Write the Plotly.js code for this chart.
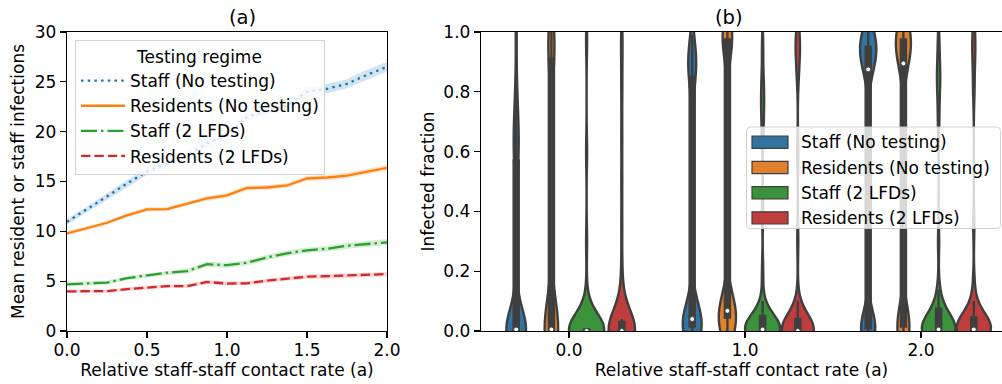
<!DOCTYPE html>
<html><head><meta charset="utf-8">
<script src="https://cdn.plot.ly/plotly-3.0.1.min.js"></script>
<style>html,body{margin:0;padding:0;background:#fff;overflow:hidden}#chart{width:1002px;height:384px}</style>
</head><body><div id="chart"></div>
<script>
// ---------- Panel (a): mean infections vs relative staff-staff contact rate ----------
const contactRate = [0, 0.125, 0.25, 0.375, 0.5, 0.625, 0.75, 0.875, 1, 1.125, 1.25, 1.375, 1.5, 1.625, 1.75, 1.875, 2];
const staffNoTesting     = [10.96, 12.2, 13.5, 14.8, 16.0, 16.8, 17.6, 18.8, 19.6, 21.5, 22.1, 22.6, 24.0, 24.3, 24.8, 25.7, 26.5];
const residentsNoTesting = [9.79, 10.3, 10.86, 11.6, 12.2, 12.23, 12.8, 13.3, 13.6, 14.35, 14.4, 14.6, 15.3, 15.4, 15.6, 16.0, 16.37];
const staff2LFDs         = [4.68, 4.75, 4.86, 5.3, 5.55, 5.85, 6.0, 6.7, 6.6, 6.85, 7.38, 7.8, 8.1, 8.25, 8.55, 8.75, 8.9];
const residents2LFDs     = [3.98, 3.98, 4.0, 4.2, 4.34, 4.5, 4.5, 4.92, 4.76, 4.78, 5.05, 5.25, 5.45, 5.5, 5.58, 5.66, 5.71];
// half-width of the confidence band around each mean
const staffNoTestingCI     = [0.3, 0.3, 0.35, 0.35, 0.35, 0.35, 0.4, 0.4, 0.4, 0.4, 0.4, 0.45, 0.45, 0.45, 0.45, 0.5, 0.5];
const residentsNoTestingCI = [0.2, 0.2, 0.2, 0.22, 0.22, 0.22, 0.22, 0.25, 0.25, 0.25, 0.25, 0.25, 0.25, 0.28, 0.28, 0.28, 0.28];
const staff2LFDsCI         = [0.2, 0.2, 0.2, 0.22, 0.22, 0.22, 0.25, 0.25, 0.25, 0.25, 0.28, 0.28, 0.28, 0.28, 0.3, 0.3, 0.3];
const residents2LFDsCI     = [0.15, 0.15, 0.15, 0.18, 0.18, 0.18, 0.18, 0.2, 0.2, 0.2, 0.2, 0.2, 0.22, 0.22, 0.22, 0.22, 0.22];

const seriesNames = ['Staff (No testing)', 'Residents (No testing)', 'Staff (2 LFDs)', 'Residents (2 LFDs)'];
const legendTitle = 'Testing regime';

// ---------- Panel (b): infected fraction per simulation, by contact rate ----------
const violinCategories = [0, 1, 2];
const violinTickLabels = ['0.0', '1.0', '2.0'];
const staffNoTestingFrac = [
  [0,0,0,0,0,0,0,0,0,0, 0,0,0,0,0,0,0,0,0,0, 0.01,0.03,0.05,0.08,0.12,0.2,0.3,0.4,0.5,0.56, 0.58,0.6,0.62,0.65,0.68,0.7,0.73,0.77,0.85,1.0],
  [0,0,0,0,0,0,0, 0.01,0.01,0.01, 0.02,0.02,0.02, 0.03,0.03,0.03,0.03,0.03, 0.04,0.04,0.04, 0.06,0.08,0.1, 0.15,0.3,0.5,0.7,0.78, 0.84,0.86,0.87,0.88,0.89,0.9,0.91,0.92,0.93,0.95,0.99],
  [0,0,0,0,0,0,0,0,0, 0.01,0.01,0.01, 0.02,0.02, 0.03,0.05, 0.3,0.7, 0.86,0.87,0.88,0.89,0.9,0.91,0.92,0.92,0.93,0.93,0.94,0.95,0.95,0.96,0.96,0.97,0.97,0.98,0.98,0.99,1.0,1.0]
];
const residentsNoTestingFrac = [
  [0,0,0,0,0,0,0,0,0,0, 0,0,0,0,0,0,0,0,0,0, 0.01, 0.03,0.06,0.1,0.2,0.35,0.5,0.65,0.8,0.9, 0.92,0.93,0.94,0.95,0.96,0.97,0.98,0.99,1.0,1.0],
  [0,0,0, 0.01, 0.02,0.02, 0.03,0.03, 0.04,0.04, 0.05,0.05,0.05, 0.06,0.06,0.06,0.06,0.06,0.06, 0.065,0.07,0.08,0.1,0.12, 0.3,0.55,0.8,0.9, 0.95,0.97,0.98,0.98,0.99,0.99,0.99,1.0,1.0,1.0,1.0,1.0],
  [0,0,0,0,0,0,0, 0.01,0.01,0.01, 0.02,0.02, 0.03,0.04,0.05,0.07, 0.4,0.75, 0.88,0.89,0.9,0.91,0.92,0.93,0.94,0.95,0.96,0.96,0.97,0.97,0.98,0.98,0.98,0.99,0.99,0.99,1.0,1.0,1.0,1.0]
];
const staff2LFDsFrac = [
  [0,0,0,0,0,0,0,0,0,0, 0,0,0,0,0,0,0,0,0,0, 0,0,0,0,0,0,0,0,0,0, 0.01,0.01,0.01,0.02,0.03,0.05, 0.12,0.3,0.6,0.97],
  [0,0,0,0,0,0,0,0,0,0, 0,0,0,0,0,0,0,0,0,0, 0.01,0.01,0.01,0.02,0.02,0.02,0.03,0.03,0.04,0.04, 0.06,0.1,0.2,0.4,0.65,0.72,0.76,0.8,0.85,0.95],
  [0,0,0,0,0,0,0,0,0,0, 0,0,0,0,0,0,0,0,0,0, 0.01,0.01,0.02,0.02,0.03,0.03,0.04,0.05,0.06,0.07, 0.08,0.1,0.14,0.3,0.7,0.78,0.83,0.86,0.9,0.97]
];
const residents2LFDsFrac = [
  [0,0,0,0,0,0,0,0,0,0, 0,0,0,0,0,0,0,0,0,0, 0,0,0,0,0,0, 0.01,0.01,0.01,0.02, 0.04,0.08,0.12,0.2,0.35,0.5,0.65,0.8,0.92,1.0],
  [0,0,0,0,0,0,0,0,0,0, 0,0,0,0,0,0,0,0,0,0, 0,0,0,0, 0.01,0.01,0.01,0.02,0.02,0.02, 0.06,0.1,0.3,0.6,0.85,0.9,0.93,0.96,0.98,1.0],
  [0,0,0,0,0,0,0,0,0,0, 0,0,0,0,0,0,0,0,0,0, 0.01,0.01,0.01,0.02,0.02,0.03,0.03,0.04,0.04,0.04, 0.05,0.07,0.1,0.16,0.35,0.8,0.88,0.93,0.97,1.0]
];
// kernel bandwidths for each violin (per series, per category)
const violinBandwidths = [[0.065, 0.065, 0.06], [0.095, 0.07, 0.07], [0.055, 0.046, 0.046], [0.065, 0.052, 0.048]];

// ---------- styles ----------
const lineColors = ['#1f77b4', '#ff7f0e', '#2ca02c', '#d62728'];
const bandColors = ['rgba(31,119,180,0.2)', 'rgba(255,127,14,0.2)', 'rgba(44,160,44,0.2)', 'rgba(214,39,40,0.2)'];
const lineDashes = ['2.5px,4.2px', 'solid', '16px,4px,2.5px,4px', '9.4px,4px'];
const violinColors = ['#3274a1', '#e1812c', '#3a923a', '#c03d3e'];
const violinEdge = '#3f3f3f';
const groupOffsets = [-0.3, -0.1, 0.1, 0.3];
const FONT = 'DejaVu Sans';
const FS = 17;

const W = 1002, H = 384, MT = 32, MB = 53;
const plotH = H - MT - MB;
const px2x = p => p / W;
const px2y = p => (H - MB - p) / plotH;

const means = [staffNoTesting, residentsNoTesting, staff2LFDs, residents2LFDs];
const cis = [staffNoTestingCI, residentsNoTestingCI, staff2LFDsCI, residents2LFDsCI];
const fracs = [staffNoTestingFrac, residentsNoTestingFrac, staff2LFDsFrac, residents2LFDsFrac];

const traces = [];
means.forEach((m, i) => {
  traces.push({type: 'scatter', mode: 'lines', x: contactRate, y: m.map((v, k) => v - cis[i][k]),
    line: {width: 0, color: lineColors[i]}, showlegend: false, hoverinfo: 'skip', xaxis: 'x', yaxis: 'y'});
  traces.push({type: 'scatter', mode: 'lines', x: contactRate, y: m.map((v, k) => v + cis[i][k]),
    fill: 'tonexty', fillcolor: bandColors[i], line: {width: 0, color: lineColors[i]},
    showlegend: false, hoverinfo: 'skip', xaxis: 'x', yaxis: 'y'});
  traces.push({type: 'scatter', mode: 'lines', x: contactRate, y: m, name: seriesNames[i],
    line: {color: lineColors[i], width: 2.3, dash: lineDashes[i]}, xaxis: 'x', yaxis: 'y', showlegend: true});
});

function interp(sorted, q) { // same quantile rule plotly uses
  let n = q * sorted.length - 0.5;
  if (n < 0) return sorted[0];
  if (n > sorted.length - 1) return sorted[sorted.length - 1];
  const f = n % 1;
  return f * sorted[Math.ceil(n)] + (1 - f) * sorted[Math.floor(n)];
}
const medX = [], medY = [];
fracs.forEach((series, s) => {
  series.forEach((vals, c) => {
    const pos = violinCategories[c] + groupOffsets[s];
    traces.push({type: 'violin', y: vals, x0: pos, name: seriesNames[s],
      xaxis: 'x2', yaxis: 'y2', showlegend: false, hoverinfo: 'skip',
      bandwidth: violinBandwidths[s][c], spanmode: 'soft', points: false,
      scalegroup: 'all', scalemode: 'count',
      fillcolor: violinColors[s], opacity: 1, line: {color: violinEdge, width: 2.4},
      box: {visible: true, width: 0.145, fillcolor: violinEdge, line: {color: violinEdge, width: 2.4}},
      meanline: {visible: false}});
    const sorted = vals.slice().sort((a, b) => a - b);
    medX.push(pos); medY.push(interp(sorted, 0.5));
  });
});
traces.push({type: 'scatter', mode: 'markers', x: medX, y: medY, xaxis: 'x2', yaxis: 'y2', showlegend: false,
  hoverinfo: 'skip', marker: {color: 'white', size: 5, line: {color: violinEdge, width: 1}}});

// ---------- legend for panel (b), drawn as patches + text ----------
function roundRect(x0, y0, x1, y1, r) {
  const X = p => px2x(p).toFixed(5), Y = p => px2y(p).toFixed(5);
  return `M${X(x0 + r)},${Y(y0)} L${X(x1 - r)},${Y(y0)} Q${X(x1)},${Y(y0)} ${X(x1)},${Y(y0 + r)} ` +
         `L${X(x1)},${Y(y1 - r)} Q${X(x1)},${Y(y1)} ${X(x1 - r)},${Y(y1)} L${X(x0 + r)},${Y(y1)} ` +
         `Q${X(x0)},${Y(y1)} ${X(x0)},${Y(y1 - r)} L${X(x0)},${Y(y0 + r)} Q${X(x0)},${Y(y0)} ${X(x0 + r)},${Y(y0)} Z`;
}
const shapes = [{type: 'path', xref: 'paper', yref: 'paper', path: roundRect(746.5, 127, 1000.5, 228.5, 4),
  fillcolor: 'rgba(255,255,255,0.8)', line: {color: 'rgba(204,204,204,0.9)', width: 1}, layer: 'above'}];
const annotations = [
  {text: '(a)', xref: 'paper', yref: 'paper', x: px2x(227), y: 1, yanchor: 'bottom', yshift: 1, showarrow: false, font: {size: 19.5}},
  {text: '(b)', xref: 'paper', yref: 'paper', x: px2x(745), y: 1, yanchor: 'bottom', yshift: 1, showarrow: false, font: {size: 19.5}}
];
seriesNames.forEach((nm, i) => {
  const cy = 142.3 + 25.2 * i;
  shapes.push({type: 'rect', xref: 'paper', yref: 'paper', x0: px2x(752), x1: px2x(788), y0: px2y(cy - 6.1), y1: px2y(cy + 6.1),
    fillcolor: violinColors[i], line: {color: violinEdge, width: 1.2}, layer: 'above'});
  annotations.push({text: nm, xref: 'paper', yref: 'paper', x: px2x(799), y: px2y(cy), xanchor: 'left', yanchor: 'middle',
    showarrow: false, font: {size: FS}});
});

const axisCommon = {ticks: 'outside', ticklen: 6, tickwidth: 1.2, tickcolor: 'black', showline: true, linecolor: 'black',
  linewidth: 1.2, showgrid: false, zeroline: false, tickfont: {size: FS, color: 'black'}};

const layout = {
  width: W, height: H, margin: {l: 0, r: 0, t: MT, b: MB, pad: 0},
  paper_bgcolor: 'white', plot_bgcolor: 'white',
  font: {family: FONT, size: FS, color: 'black'},
  showlegend: true,
  legend: {x: px2x(75), y: px2y(40), xanchor: 'left', yanchor: 'top', bgcolor: 'rgba(255,255,255,0.8)',
    bordercolor: 'rgba(204,204,204,0.9)', borderwidth: 1, font: {size: FS}, itemwidth: 44, traceorder: 'normal',
    title: {text: legendTitle, side: 'top center', font: {size: FS}}},
  xaxis: Object.assign({}, axisCommon, {domain: [px2x(67), px2x(387)], range: [0, 2], tickvals: [0, 0.5, 1, 1.5, 2],
    tickformat: '.1f', mirror: true, anchor: 'y', ticklabelstandoff: -3,
    title: {text: 'Relative staff-staff contact rate (a)', font: {size: FS}, standoff: 3}}),
  yaxis: Object.assign({}, axisCommon, {domain: [0, 1], range: [0, 30], dtick: 5, mirror: true, anchor: 'x',
    title: {text: 'Mean resident or staff infections', font: {size: FS}, standoff: 5}}),
  xaxis2: Object.assign({}, axisCommon, {domain: [px2x(481), 1], range: [-0.5, -0.5 + (W - 481) / 176],
    tickvals: violinCategories, ticktext: violinTickLabels, mirror: true, anchor: 'y2', ticklabelstandoff: -3,
    title: {text: 'Relative staff-staff contact rate (a)', font: {size: FS}, standoff: 3}}),
  yaxis2: Object.assign({}, axisCommon, {domain: [0, 1], range: [0, 1], dtick: 0.2, tickformat: '.1f', anchor: 'x2',
    title: {text: 'Infected fraction', font: {size: FS}, standoff: 4}}),
  violinmode: 'overlay', violingap: 0, violingroupgap: 0,
  shapes: shapes, annotations: annotations
};

Plotly.newPlot('chart', traces, layout, {displayModeBar: false, staticPlot: true});
</script></body></html>
